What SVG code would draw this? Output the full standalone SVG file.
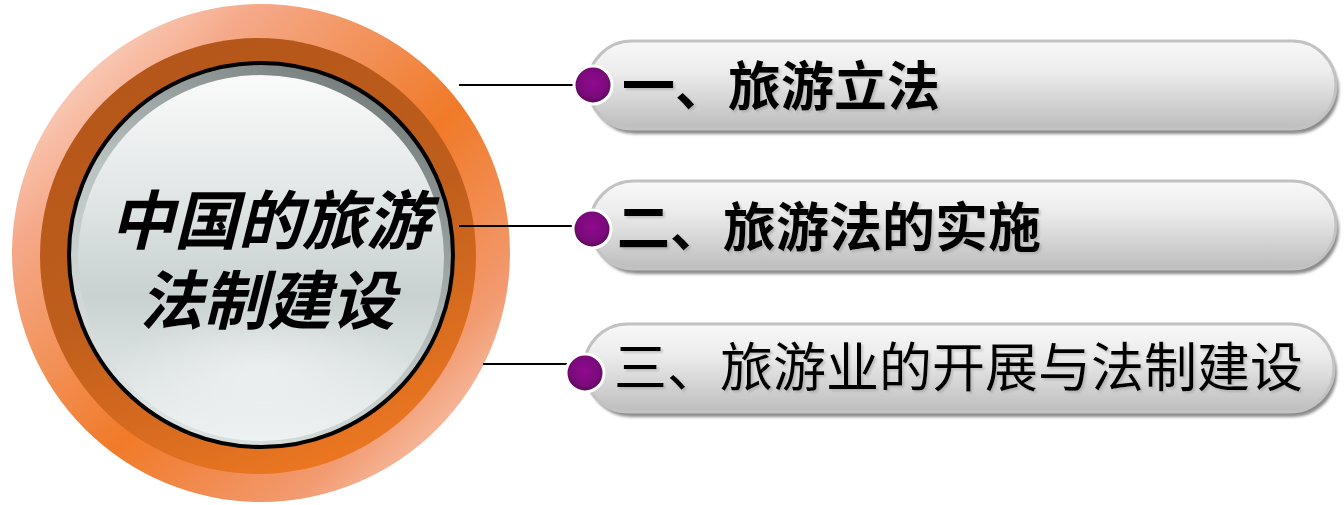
<svg xmlns="http://www.w3.org/2000/svg" width="1344" height="505" viewBox="0 0 1344 505">
<style>
.pill{fill:url(#pillG);stroke:#c2c2c2;stroke-width:3}
.pshadow{fill:#8a8a8a;filter:url(#blur)}
.dot{fill:url(#dotG);stroke:#ffffff;stroke-width:3}
.conn{stroke:#000;stroke-width:2;fill:none}
.lbl{font-family:"Noto Sans CJK SC","Noto Sans",sans-serif;font-size:53px;fill:#000;filter:url(#tshadow)}
.b{font-weight:700}
.title{font-family:"Noto Sans CJK SC","Noto Sans",sans-serif;font-size:64px;font-weight:700;font-style:italic;fill:#000}
</style>
<defs>
<filter id="blur" x="-5%" y="-20%" width="110%" height="140%"><feGaussianBlur stdDeviation="1.5"/></filter>
<filter id="tshadow" x="-5%" y="-20%" width="110%" height="140%"><feDropShadow dx="2" dy="2" stdDeviation="1" flood-color="#888" flood-opacity="0.4"/></filter>
<linearGradient id="pillG" x1="0" y1="0" x2="0" y2="1">
<stop offset="0" stop-color="#f8f8f8"/>
<stop offset="0.35" stop-color="#ececec"/>
<stop offset="1" stop-color="#bdbdbd"/>
</linearGradient>
<radialGradient id="dotG" cx="0.5" cy="0.45" r="0.55">
<stop offset="0" stop-color="#900a90"/>
<stop offset="0.7" stop-color="#7a0a7a"/>
<stop offset="1" stop-color="#4e0a4e"/>
</radialGradient>
<linearGradient id="outerG" x1="0" y1="0" x2="1" y2="1">
<stop offset="0" stop-color="#fdf2ed"/>
<stop offset="0.25" stop-color="#f5a888"/>
<stop offset="0.55" stop-color="#f07a28"/>
<stop offset="0.78" stop-color="#f29a70"/>
<stop offset="1" stop-color="#fdeae2"/>
</linearGradient>
<linearGradient id="ringG" x1="0.3" y1="0" x2="0.7" y2="1">
<stop offset="0" stop-color="#b4561a"/>
<stop offset="0.5" stop-color="#bf5e1c"/>
<stop offset="1" stop-color="#ee7822"/>
</linearGradient>
<linearGradient id="rimG" x1="0.8" y1="0" x2="0.2" y2="1">
<stop offset="0" stop-color="#6c7474"/>
<stop offset="0.5" stop-color="#b8c0c0"/>
<stop offset="1" stop-color="#e2e8e8"/>
</linearGradient>
<linearGradient id="lensG" x1="0" y1="0" x2="0" y2="1">
<stop offset="0" stop-color="#fafafa"/>
<stop offset="0.3" stop-color="#e4e8e8"/>
<stop offset="0.6" stop-color="#c9d1d1"/>
<stop offset="1" stop-color="#eef2f2"/>
</linearGradient>
<radialGradient id="lowG" cx="0.5" cy="0.5" r="0.5">
<stop offset="0" stop-color="#ffffff" stop-opacity="0.45"/>
<stop offset="1" stop-color="#ffffff" stop-opacity="0"/>
</radialGradient>
</defs>

<g id="center">
<circle cx="261" cy="253" r="249" fill="url(#outerG)"/>
<circle cx="258" cy="256" r="218" fill="url(#ringG)"/>
<circle cx="261" cy="255" r="192" fill="url(#rimG)" stroke="#000" stroke-width="4"/>
<circle cx="261" cy="258" r="183" fill="url(#lensG)"/>
<ellipse cx="261" cy="370" rx="150" ry="65" fill="url(#lowG)"/>
<text class="title" text-anchor="middle"><tspan x="270" y="244">中国的旅游</tspan><tspan x="267" y="324">法制建设</tspan></text>
</g>

<g id="connectors">
<line class="conn" x1="459" y1="85" x2="576" y2="85"/>
<line class="conn" x1="459" y1="226" x2="576" y2="226"/>
<line class="conn" x1="483" y1="364" x2="568" y2="364"/>
</g>

<g id="item1">
<rect class="pshadow" x="591" y="46" width="748" height="88" rx="44"/>
<rect class="pill" x="588" y="41" width="748" height="88" rx="44"/>
<circle class="dot" cx="593" cy="85" r="19"/>
<text class="lbl b" x="622" y="106">一、旅游立法</text>
</g>

<g id="item2">
<rect class="pshadow" x="593" y="186" width="746" height="88" rx="44"/>
<rect class="pill" x="590" y="181" width="746" height="88" rx="44"/>
<circle class="dot" cx="592" cy="229" r="19"/>
<text class="lbl b" x="617" y="247">二、旅游法的实施</text>
</g>

<g id="item3">
<rect class="pshadow" x="587" y="329" width="750" height="88" rx="44"/>
<rect class="pill" x="584" y="324" width="750" height="88" rx="44"/>
<circle class="dot" cx="585" cy="373" r="19"/>
<text class="lbl" x="614" y="387">三、旅游业的开展与法制建设</text>
</g>
</svg>
